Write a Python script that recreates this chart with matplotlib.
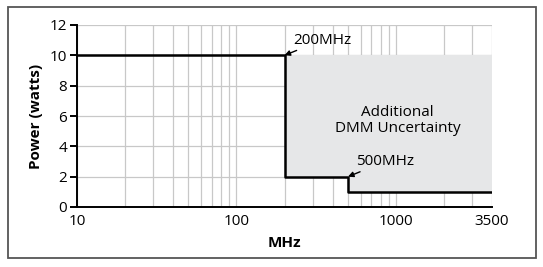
import matplotlib.pyplot as plt
import matplotlib
from matplotlib.patches import Rectangle
from matplotlib.ticker import FixedLocator, NullFormatter

matplotlib.rcParams.update({
    'font.family': ['Open Sans', 'DejaVu Sans'],
    'font.size': 10,
})

# step edges (MHz) and power limit (watts) for each step
freq_edges = [10, 200, 500, 4000]
power_steps = [10, 2, 1]
fill_top = 10

x_ticks = [10, 100, 1000, 4000]
x_tick_labels = ['10', '100', '1000', '3500']
y_ticks = [0, 2, 4, 6, 8, 10, 12]

fig = plt.figure(figsize=(5.43, 2.67), dpi=100)
ax = fig.add_axes([77 / 543, 1 - 207 / 267, (492 - 77) / 543, (207 - 25) / 267])

# frame around the whole figure
fig.patches.append(Rectangle((8 / 543, 1 - 258 / 267), (536 - 8) / 543, (258 - 7) / 267,
                             transform=fig.transFigure, fill=False,
                             edgecolor='#555555', linewidth=1.3))

ax.set_xscale('log')
ax.set_xlim(10, 4000)
ax.set_ylim(0, 12)

# shaded region between the limit line and 10 W, right of the first step
ax.fill_between(freq_edges[1:], power_steps[1:] + [power_steps[-1]], fill_top,
                step='post', color='#e6e7e8', zorder=1, linewidth=0)

ax.step(freq_edges, power_steps + [power_steps[-1]], where='post',
        color='black', linewidth=1.8, zorder=3)

ax.xaxis.set_major_locator(FixedLocator(x_ticks))
ax.set_xticklabels(x_tick_labels)
ax.xaxis.set_minor_locator(FixedLocator([20, 30, 40, 50, 60, 70, 80, 90,
                                         200, 300, 400, 500, 600, 700, 800, 900,
                                         2000, 3000]))
ax.xaxis.set_minor_formatter(NullFormatter())
ax.set_yticks(y_ticks)

ax.grid(True, which='both', color='#c8c8c8', linewidth=0.9, zorder=0)
ax.set_axisbelow(True)
for s in ['top', 'right']:
    ax.spines[s].set_visible(False)
ax.spines['left'].set_linewidth(1.4)
ax.spines['bottom'].set_linewidth(1.4)
ax.tick_params(which='both', length=0, labelsize=11)
ax.tick_params(axis='y', length=5, width=1.4, pad=2)
ax.tick_params(axis='x', pad=5)

ax.set_ylabel('Power (watts)', fontweight='bold', fontsize=11, labelpad=5)
ax.set_xlabel('MHz', fontweight='bold', fontsize=11, labelpad=5)

arrow = dict(arrowstyle='-|>', color='black', lw=1, shrinkA=0, shrinkB=0, mutation_scale=8)
ax.annotate('200MHz', xy=(200, 10), xytext=(226, 11.0), fontsize=11,
            va='center', ha='left', arrowprops=arrow)
ax.annotate('500MHz', xy=(500, 2), xytext=(565, 3.0), fontsize=11,
            va='center', ha='left', arrowprops=arrow)
ax.text(1020, 5.7, 'Additional\nDMM Uncertainty', ha='center', va='center',
        fontsize=11, linespacing=1.15)

fig.savefig('out.png', dpi=100)
